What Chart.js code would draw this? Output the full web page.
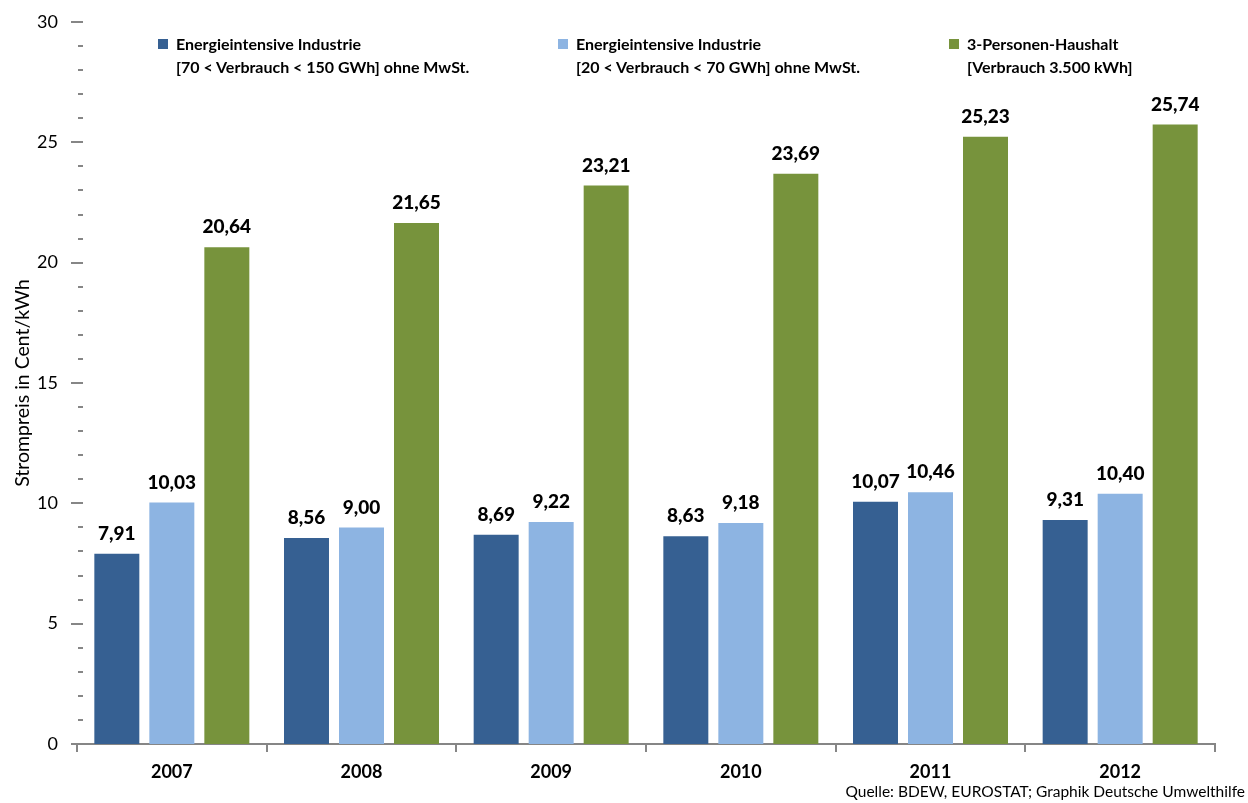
<!DOCTYPE html>
<html>
<head>
<meta charset="utf-8">
<script src="https://cdn.jsdelivr.net/npm/chart.js@4/dist/chart.umd.min.js"></script>
<style>
    html, body { margin: 0; padding: 0; background: #fff; }
    #wrap { position: relative; width: 1248px; height: 803px; }
    .legend-item { position: absolute; top: 32px; font: bold 16px Lato, sans-serif; line-height: 23px; color: #000; }
    .legend-item .box { position: absolute; left: -18px; top: 7px; width: 10px; height: 10px; }
</style>
</head>
<body>
<div id="wrap">
    <canvas id="priceChart" width="1248" height="803"></canvas>
    <div id="legend"></div>
</div>
<script>
// Strompreise in Cent/kWh
const years = ['2007', '2008', '2009', '2010', '2011', '2012'];
const industryLarge = [7.91, 8.56, 8.69, 8.63, 10.07, 9.31];
const industrySmall = [10.03, 9.00, 9.22, 9.18, 10.46, 10.40];
const household = [20.64, 21.65, 23.21, 23.69, 25.23, 25.74];
const seriesLabels = [
    ['Energieintensive Industrie', '[70 < Verbrauch < 150 GWh] ohne MwSt.'],
    ['Energieintensive Industrie', '[20 < Verbrauch < 70 GWh] ohne MwSt.'],
    ['3-Personen-Haushalt', '[Verbrauch 3.500 kWh]']
];
const seriesColors = ['#366092', '#8DB4E2', '#77933C'];
const sourceText = 'Quelle: BDEW, EUROSTAT; Graphik Deutsche Umwelthilfe';

const axisGray = '#868686';

// legend as html, sits inside the plot like in the original
const legendLeft = [176, 576, 967];
const legendEl = document.getElementById('legend');
seriesLabels.forEach((lines, i) => {
    const item = document.createElement('div');
    item.className = 'legend-item';
    item.style.left = legendLeft[i] + 'px';
    item.innerHTML = '<span class="box" style="background:' + seriesColors[i] + '"></span>' + lines.join('<br>');
    legendEl.appendChild(item);
});

// y tick marks: long ones every 5, short ones every 1
const yTickMarks = {
    id: 'yTickMarks',
    afterDraw(chart) {
        const ctx = chart.ctx;
        const y = chart.scales.y;
        const left = chart.chartArea.left;
        ctx.save();
        ctx.strokeStyle = axisGray;
        ctx.lineWidth = 2;
        for (let v = y.min; v <= y.max; v++) {
            const py = Math.round(y.getPixelForValue(v));
            ctx.beginPath();
            if (v % 5 === 0) {
                ctx.moveTo(left - 6, py);
            } else {
                ctx.moveTo(left + 1, py);
            }
            ctx.lineTo(left + 6, py);
            ctx.stroke();
        }
        ctx.restore();
    }
};

// value labels above the bars
const valueLabels = {
    id: 'valueLabels',
    afterDatasetsDraw(chart) {
        const ctx = chart.ctx;
        ctx.save();
        ctx.font = '900 19px Lato, sans-serif';
        ctx.fillStyle = '#000';
        ctx.textAlign = 'center';
        ctx.textBaseline = 'middle';
        chart.data.datasets.forEach((ds, i) => {
            chart.getDatasetMeta(i).data.forEach((bar, j) => {
                const txt = ds.data[j].toFixed(2).replace('.', ',');
                ctx.fillText(txt, bar.x, bar.y - 20);
            });
        });
        ctx.restore();
    }
};

const sourceNote = {
    id: 'sourceNote',
    afterDraw(chart) {
        const ctx = chart.ctx;
        ctx.save();
        ctx.font = '15.5px Lato, sans-serif';
        ctx.fillStyle = '#000';
        ctx.textAlign = 'right';
        ctx.textBaseline = 'middle';
        ctx.fillText(sourceText, 1245, 792);
        ctx.restore();
    }
};

const datasets = [industryLarge, industrySmall, household].map((data, i) => ({
    label: seriesLabels[i].join(' '),
    data: data,
    backgroundColor: seriesColors[i],
    borderWidth: 0,
    categoryPercentage: 0.87,
    barPercentage: 0.818
}));

new Chart(document.getElementById('priceChart'), {
    type: 'bar',
    data: { labels: years, datasets: datasets },
    options: {
        responsive: false,
        animation: false,
        layout: { padding: { top: 22, right: 33, bottom: 0, left: 0 } },
        plugins: {
            legend: { display: false },
            tooltip: { enabled: false }
        },
        scales: {
            x: {
                afterFit: function(scale) { scale.height = 59; },
                grid: {
                    drawOnChartArea: false,
                    color: axisGray,
                    lineWidth: 2,
                    tickLength: 8
                },
                border: { color: axisGray, width: 2 },
                ticks: {
                    color: '#000',
                    padding: 9,
                    font: { family: 'Lato', size: 18, weight: 'bold' }
                }
            },
            y: {
                min: 0,
                max: 30,
                afterFit: function(scale) { scale.width = 77; },
                // marks are drawn by the plugin, tickLength only keeps the labels clear
                grid: { display: false, drawTicks: true, tickLength: 19 },
                border: { display: false },
                ticks: {
                    stepSize: 5,
                    padding: 0,
                    color: '#000',
                    font: { family: 'Lato', size: 18 }
                },
                title: {
                    display: true,
                    text: 'Strompreis in Cent/kWh',
                    color: '#000',
                    padding: { top: 11, bottom: 0 },
                    font: { family: 'Lato', size: 19.5 }
                }
            }
        }
    },
    plugins: [yTickMarks, valueLabels, sourceNote]
});
</script>
</body>
</html>
